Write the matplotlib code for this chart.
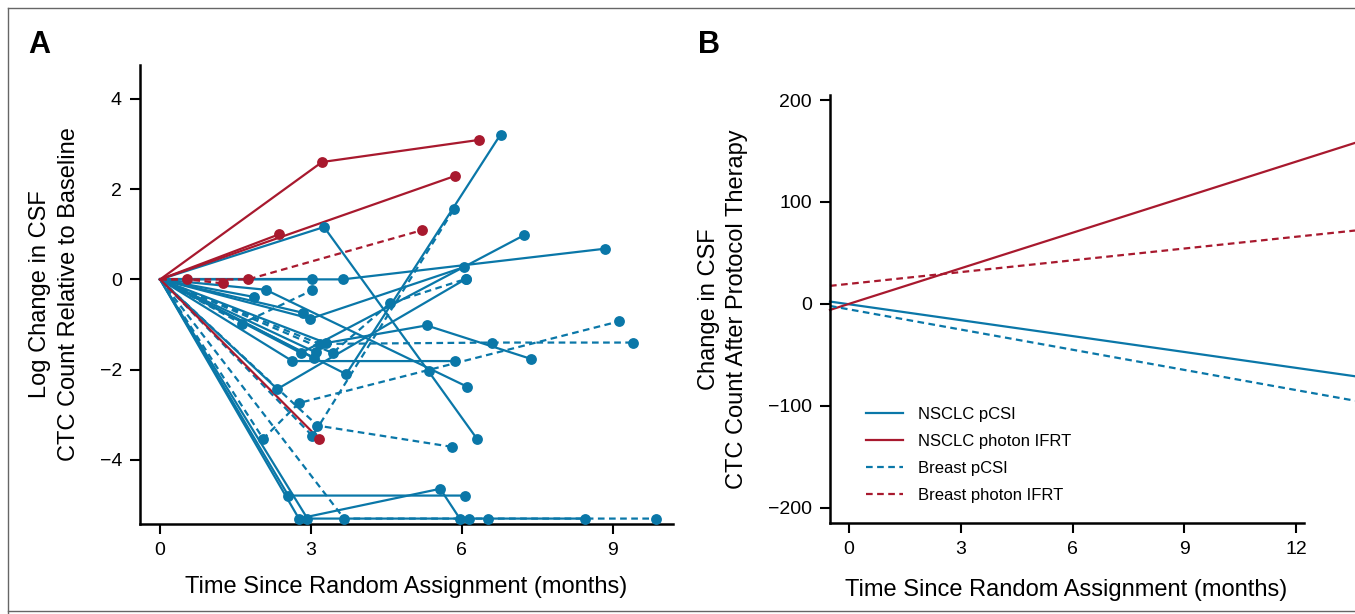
import matplotlib
matplotlib.use("Agg")
import matplotlib.pyplot as plt
from matplotlib.lines import Line2D

BLUE = "#0a77a8"
RED = "#a8192e"
plt.rcParams["font.family"] = ["Liberation Sans Narrow", "Liberation Sans", "DejaVu Sans"]

# Panel A: per-patient CTC trajectories (months since random assignment, log change)
nsclc_pcsi_months = [
    [0, 3.03], [0, 3.63, 8.85], [0, 3.26, 5.34, 6.30], [0, 3.70, 6.77],
    [0, 2.10, 6.11], [0, 2.99, 6.04], [0, 2.80, 7.24], [0, 2.63, 5.87],
    [0, 2.33, 6.08], [0, 3.30, 5.30, 7.37], [0, 1.87], [0, 2.84], [0, 3.10],
    [0, 3.07], [0, 2.55, 6.07], [0, 2.76, 5.57, 5.96], [0, 2.93, 6.14, 8.44],
]
nsclc_pcsi_change = [
    [0, 0.0], [0, 0.0, 0.68], [0, 1.16, -2.04, -3.53], [0, -2.10, 3.21],
    [0, -0.23, -2.38], [0, -0.87, 0.27], [0, -1.63, 0.98], [0, -1.81, -1.81],
    [0, -2.43, 0.01], [0, -1.41, -1.02, -1.76], [0, -0.39], [0, -0.74], [0, -1.62],
    [0, -1.75], [0, -4.79, -4.79], [0, -5.30, -4.64, -5.30], [0, -5.30, -5.30, -5.30],
]
breast_pcsi_months = [
    [0, 1.62, 3.03], [0, 3.13, 5.80], [0, 3.03, 5.84], [0, 2.05, 2.76, 9.13],
    [0, 3.17, 6.61, 9.41], [0, 3.43, 4.57, 6.08], [0, 3.66, 6.53, 9.87],
]
breast_pcsi_change = [
    [0, -0.98, -0.24], [0, -3.24, -3.71], [0, -3.47, 1.55], [0, -3.53, -2.74, -0.93],
    [0, -1.43, -1.40, -1.40], [0, -1.63, -0.53, 0.01], [0, -5.30, -5.30, -5.30],
]
nsclc_ifrt_months = [[0, 3.22, 6.34], [0, 2.37], [0, 5.86], [0, 3.16]]
nsclc_ifrt_change = [[0, 2.60, 3.09], [0, 1.00], [0, 2.29], [0, -3.53]]
breast_ifrt_months = [[0, 0.54, 1.25], [0, 1.75, 5.21]]
breast_ifrt_change = [[0, 0.0, -0.09], [0, 0.0, 1.09]]

# Panel B: fitted change in CSF CTC count, at the two visible ends of each line
fit_months = [-0.51, 13.58]
fit_nsclc_pcsi = [2.3, -71]
fit_nsclc_ifrt = [-5.9, 158]
fit_breast_pcsi = [-2.0, -95]
fit_breast_ifrt = [17.7, 72]

W, H = 1355, 614
fig = plt.figure(figsize=(W / 100, H / 100), dpi=100)


def px_axes(left, top, right, bottom):
    return fig.add_axes([left / W, 1 - bottom / H, (right - left) / W, (bottom - top) / H])


def style(ax):
    for s in ("top", "right"):
        ax.spines[s].set_visible(False)
    for s in ("left", "bottom"):
        ax.spines[s].set_linewidth(1.8)
    ax.tick_params(direction="out", length=7, width=1.5, labelsize=14, pad=6)


# ---- panel A
ax = px_axes(140, 65, 673, 524)
groups = [
    (nsclc_pcsi_months, nsclc_pcsi_change, BLUE, "-"),
    (breast_pcsi_months, breast_pcsi_change, BLUE, (0, (3, 2))),
    (nsclc_ifrt_months, nsclc_ifrt_change, RED, "-"),
    (breast_ifrt_months, breast_ifrt_change, RED, (0, (3, 2))),
]
for months, change, color, ls in groups:
    for t, v in zip(months, change):
        ax.plot(t, v, color=color, ls=ls, lw=1.6, zorder=2)
        ax.plot(t[1:], v[1:], "o", color=color, ms=7.8, mec="none", zorder=3)
ax.set_xlim(-0.4, 10.2)
ax.set_ylim(-5.42, 4.75)
ax.set_xticks([0, 3, 6, 9])
ax.set_yticks([4, 2, 0, -2, -4])
ax.set_yticklabels(["4", "2", "0", "\u22122", "\u22124"])
style(ax)
ax.set_xlabel("Time Since Random Assignment (months)", fontsize=17, labelpad=12)
ax.set_ylabel("Log Change in CSF\nCTC Count Relative to Baseline", fontsize=17,
              labelpad=14, linespacing=1.4)

# ---- panel B
bx = px_axes(830, 95, 1355, 523)
bx.plot(fit_months, fit_nsclc_pcsi, color=BLUE, lw=1.6, label="NSCLC pCSI", clip_on=False)
bx.plot(fit_months, fit_nsclc_ifrt, color=RED, lw=1.6, label="NSCLC photon IFRT", clip_on=False)
bx.plot(fit_months, fit_breast_pcsi, color=BLUE, lw=1.6, ls=(0, (3, 2)), label="Breast pCSI", clip_on=False)
bx.plot(fit_months, fit_breast_ifrt, color=RED, lw=1.6, ls=(0, (3, 2)), label="Breast photon IFRT", clip_on=False)
bx.set_xlim(fit_months)
bx.set_ylim(-215, 205)
bx.set_xticks([0, 3, 6, 9, 12])
bx.set_yticks([200, 100, 0, -100, -200])
bx.set_yticklabels(["200", "100", "0", "\u2212100", "\u2212200"])
style(bx)
bx.spines["bottom"].set_bounds(-0.51, 12.2)
bx.set_xlabel("Time Since Random Assignment (months)", fontsize=17, labelpad=12)
bx.xaxis.set_label_coords(0.45, -0.13)
bx.set_ylabel("Change in CSF\nCTC Count After Protocol Therapy", fontsize=17,
              labelpad=14, linespacing=1.4)
bx.legend(loc="upper left", bbox_to_anchor=(36 / 525, 0.272), frameon=False, fontsize=12,
          handlelength=2.2, handletextpad=0.9, labelspacing=0.72, borderpad=0, borderaxespad=0)

fig.text(28 / W, 1 - 45 / H, "A", fontsize=22, fontweight="bold", va="center")
fig.text(698 / W, 1 - 45 / H, "B", fontsize=22, fontweight="bold", va="center")

# thin frame around the figure
for xy in (([8, W], [8, 8]), ([8, 8], [8, H]), ([8, W], [611, 611])):
    fig.add_artist(Line2D([p / W for p in xy[0]], [1 - p / H for p in xy[1]], color="#666666", lw=1))

fig.savefig("out.png", dpi=100)
